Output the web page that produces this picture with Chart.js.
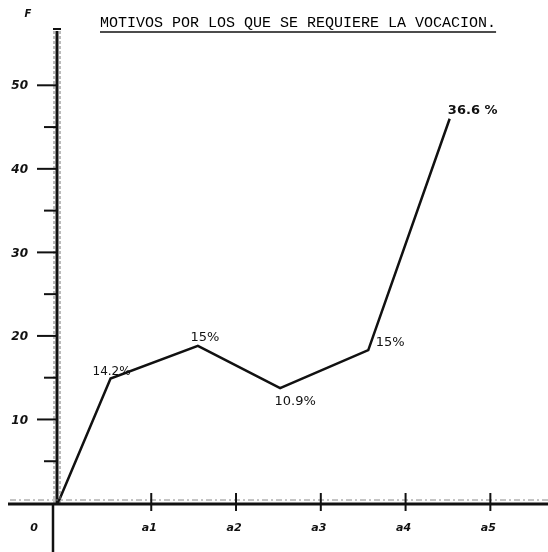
<!DOCTYPE html>
<html>
<head>
<meta charset="utf-8">
<script src="https://cdn.jsdelivr.net/npm/chart.js@4.4.1/dist/chart.umd.min.js"></script>
<style>
html, body { margin: 0; padding: 0; background: #fff; }
#wrap { width: 548px; height: 552px; }
</style>
</head>
<body>
<div id="wrap"><canvas id="grafica" width="548" height="552"></canvas></div>
<script>
// datos
const titulo = "MOTIVOS POR LOS QUE SE REQUIERE LA VOCACION.";
const xPuntos = [-0.1, 0.52, 1.55, 2.52, 3.56, 4.52];
const frecuencias = [0, 14.9, 18.8, 13.75, 18.3, 46];
const etiquetas = ["", "14.2%", "15%", "10.9%", "15%", "36.6 %"];
const yMarcas = [10, 20, 30, 40, 50];
const xMarcas = ["a1", "a2", "a3", "a4", "a5"];

const puntos = xPuntos.map((x, i) => ({ x: x, y: frecuencias[i] }));

// posicion de cada etiqueta respecto a su punto
const desplaza = [[0, 0], [1, -7], [7, -8], [15, 13], [22, -7], [23, -8]];

const ejes = {
  id: "ejes",
  afterDraw(chart) {
    const c = chart.ctx;
    const sx = chart.scales.x, sy = chart.scales.y;
    const x0 = sx.getPixelForValue(-0.1);
    const y0 = sy.getPixelForValue(0);
    const top = chart.chartArea.top;
    c.save();
    c.strokeStyle = "#111";
    c.fillStyle = "#111";
    c.lineCap = "butt";

    // eje vertical doble
    c.lineWidth = 3;
    c.beginPath(); c.moveTo(x0 - 1, top); c.lineTo(x0 - 1, y0); c.stroke();
    c.lineWidth = 1;
    c.strokeStyle = "#777";
    c.setLineDash([3, 2]);
    c.beginPath(); c.moveTo(x0 + 2, top); c.lineTo(x0 + 2, y0); c.stroke();
    c.beginPath(); c.moveTo(x0 - 4, top); c.lineTo(x0 - 4, y0); c.stroke();
    c.setLineDash([]);
    c.strokeStyle = "#111";
    c.lineWidth = 2;
    c.beginPath(); c.moveTo(x0 - 5, top - 2); c.lineTo(x0 + 3, top - 2); c.stroke();
    c.lineWidth = 2.5;
    c.beginPath(); c.moveTo(x0 - 5, y0); c.lineTo(x0 - 5, 552); c.stroke();

    // eje horizontal
    c.lineWidth = 3;
    c.beginPath(); c.moveTo(8, y0 + 1); c.lineTo(548, y0 + 1); c.stroke();
    c.lineWidth = 1;
    c.strokeStyle = "#888";
    c.setLineDash([6, 3, 2, 3]);
    c.beginPath(); c.moveTo(10, y0 - 3); c.lineTo(548, y0 - 3); c.stroke();
    c.setLineDash([]);
    c.strokeStyle = "#111";

    // marcas del eje y
    c.lineWidth = 2;
    for (let v = 5; v <= 50; v += 5) {
      const py = sy.getPixelForValue(v);
      const largo = v % 10 === 0 ? 19 : 12;
      c.beginPath(); c.moveTo(x0 - 2 - largo, py); c.lineTo(x0 - 2, py); c.stroke();
    }
    c.font = "italic bold 12px 'DejaVu Sans'";
    c.textAlign = "right";
    c.textBaseline = "middle";
    yMarcas.forEach(v => {
      c.fillText(String(v), x0 - 30, sy.getPixelForValue(v) + 1);
    });

    // marcas del eje x
    c.lineWidth = 2;
    c.textAlign = "center";
    c.font = "italic bold 11px 'DejaVu Sans'";
    xMarcas.forEach((t, i) => {
      const px = sx.getPixelForValue(i + 1);
      c.beginPath(); c.moveTo(px, y0 - 10); c.lineTo(px, y0 + 8); c.stroke();
      c.fillText(t, px - 2, y0 + 25);
    });
    c.fillText("0", 34, y0 + 25);

    // F y titulo
    c.font = "italic bold 10px 'DejaVu Sans'";
    c.fillText("F", 28, 14);
    c.fillStyle = "#000";
    c.font = "15px 'Liberation Mono'";
    c.textAlign = "left";
    c.textBaseline = "alphabetic";
    c.fillText(titulo, 100, 27);
    const ancho = c.measureText(titulo).width;
    c.lineWidth = 1.5;
    c.beginPath(); c.moveTo(100, 32); c.lineTo(100 + ancho, 32); c.stroke();

    // etiquetas de porcentaje
    const meta = chart.getDatasetMeta(0);
    c.fillStyle = "#111";
    c.textAlign = "center";
    c.textBaseline = "middle";
    meta.data.forEach((p, i) => {
      if (!etiquetas[i]) return;
      const tam = i === 1 ? 12 : 13;
      c.font = (i === 5 ? "bold " : "") + tam + "px 'DejaVu Sans'";
      c.fillText(etiquetas[i], p.x + desplaza[i][0], p.y + desplaza[i][1]);
    });
    c.restore();
  }
};

new Chart(document.getElementById("grafica"), {
  type: "line",
  data: {
    datasets: [{
      data: puntos,
      borderColor: "#111",
      borderWidth: 2.5,
      pointRadius: 0,
      tension: 0,
      fill: false
    }]
  },
  options: {
    responsive: false,
    animation: false,
    layout: { padding: { left: 58, top: 31, right: 0, bottom: 49 } },
    plugins: { legend: { display: false }, tooltip: { enabled: false } },
    scales: {
      x: { type: "linear", min: -0.1, max: 5.68, display: false },
      y: { type: "linear", min: 0, max: 56.5, display: false }
    }
  },
  plugins: [ejes]
});
</script>
</body>
</html>
